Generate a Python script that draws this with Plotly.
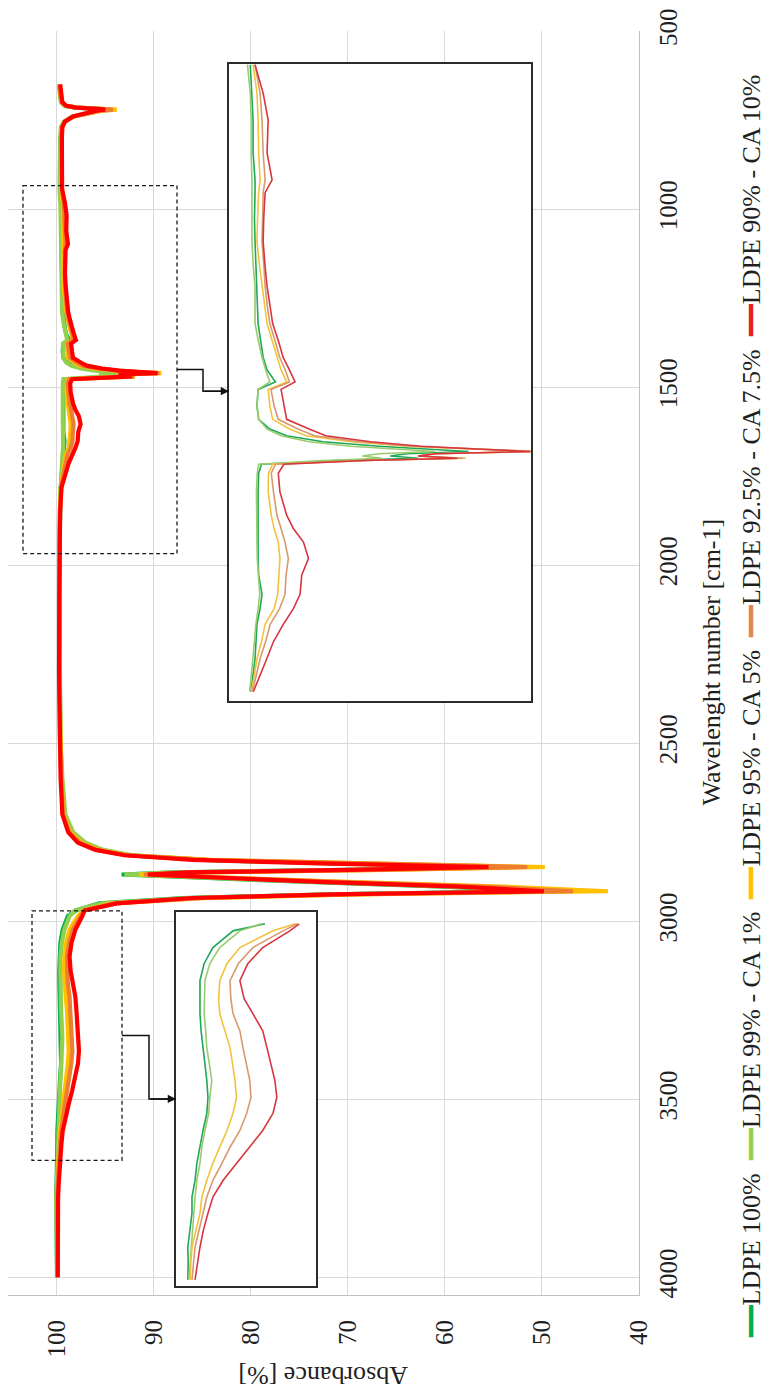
import plotly.graph_objects as go

# FTIR spectra: wavenumber grid (cm-1) shared by every sample
wavenumber = [
    650, 680, 700, 710, 715, 719, 721, 724, 730, 740, 755, 770, 800, 850, 900,
    944, 982, 1018, 1062, 1098, 1115, 1150, 1180, 1210, 1240, 1270, 1290, 1315,
    1335, 1352, 1368, 1378, 1400, 1418, 1431, 1440, 1448, 1454, 1458, 1461, 1464,
    1467, 1470, 1473, 1478, 1490, 1515, 1546, 1564, 1582, 1604, 1626, 1652, 1671,
    1692, 1715, 1738, 1759, 1782, 1850, 1950, 2100, 2300, 2500, 2600, 2700, 2750,
    2780, 2800, 2815, 2828, 2838, 2848, 2856, 2863, 2869, 2878, 2890, 2903, 2916,
    2925, 2935, 2950, 2970, 2986, 3024, 3060, 3099, 3140, 3174, 3213, 3251, 3290,
    3326, 3364, 3400, 3439, 3477, 3513, 3552, 3590, 3627, 3665, 3704, 3740, 3778,
    3850, 3925, 4000,
]

ldpe_100 = [
    99.70, 99.65, 99.50, 99.10, 97.90, 95.20, 94.30, 95.60, 96.60, 98.30, 99.20, 99.50, 99.58, 99.60, 99.60,
    99.60, 99.54, 99.50, 99.50, 99.43, 99.43, 99.45, 99.43, 99.40, 99.36, 99.34, 99.32, 99.22,
    99.14, 99.00, 98.70, 99.32, 99.36, 99.30, 98.90, 98.30, 97.00, 95.00, 93.00, 91.80, 94.00,
    94.60, 93.60, 96.50, 99.20, 99.30, 99.32, 99.33, 99.32, 99.32, 99.32, 99.30, 99.18, 99.25,
    99.36, 99.40, 99.43, 99.50, 99.58, 99.65, 99.68, 99.70, 99.70, 99.60, 99.45, 99.20, 98.50,
    97.30, 95.50, 92.50, 85.00, 72.00, 56.50, 70.00, 88.00, 93.30, 86.00, 74.00, 60.00, 50.50,
    72.00, 87.00, 95.60, 98.00, 98.84, 99.37, 99.60, 99.71, 99.72, 99.71, 99.68, 99.63, 99.58,
    99.53, 99.50, 99.53, 99.63, 99.71, 99.79, 99.84, 99.92, 99.92, 99.97, 100.03, 100.02, 100.03,
    100.00, 99.98, 99.95,
]

ldpe_99_ca_1 = [
    99.72, 99.68, 99.55, 99.20, 98.10, 95.60, 94.70, 95.90, 96.80, 98.40, 99.25, 99.55, 99.62, 99.65, 99.68,
    99.70, 99.60, 99.57, 99.57, 99.54, 99.54, 99.55, 99.54, 99.50, 99.43, 99.43, 99.43, 99.30,
    99.18, 99.05, 98.90, 99.32, 99.36, 99.30, 99.00, 98.50, 97.50, 96.00, 94.20, 93.00, 95.00,
    95.60, 94.90, 97.00, 99.30, 99.35, 99.38, 99.38, 99.37, 99.36, 99.35, 99.32, 99.26, 99.32,
    99.40, 99.45, 99.50, 99.56, 99.62, 99.66, 99.70, 99.70, 99.68, 99.58, 99.40, 99.10, 98.30,
    97.00, 95.20, 92.20, 84.50, 71.50, 56.00, 69.50, 87.50, 93.00, 85.50, 73.50, 59.50, 50.00,
    71.50, 86.50, 95.30, 98.10, 98.66, 99.19, 99.45, 99.58, 99.60, 99.60, 99.56, 99.53, 99.46,
    99.40, 99.45, 99.48, 99.58, 99.66, 99.71, 99.79, 99.84, 99.87, 99.91, 99.95, 99.98, 100.00,
    99.98, 99.96, 99.94,
]

ldpe_95_ca_5 = [
    99.68, 99.62, 99.45, 99.00, 97.80, 94.80, 93.80, 95.30, 96.40, 98.20, 99.15, 99.45, 99.52, 99.54, 99.52,
    99.50, 99.36, 99.32, 99.30, 99.25, 99.30, 99.34, 99.36, 99.28, 99.18, 99.08, 99.00, 98.80,
    98.65, 98.50, 98.30, 98.96, 98.90, 98.80, 98.20, 97.60, 96.00, 94.00, 91.50, 89.20, 93.00,
    93.60, 91.90, 95.50, 98.80, 98.95, 98.96, 98.85, 98.75, 98.60, 98.54, 98.58, 98.62, 98.75,
    99.07, 99.20, 99.36, 99.45, 99.56, 99.65, 99.70, 99.72, 99.72, 99.64, 99.50, 99.30, 98.60,
    97.40, 95.60, 92.60, 84.00, 68.00, 49.70, 66.00, 85.50, 91.50, 83.00, 70.00, 54.00, 43.20,
    69.00, 84.50, 94.30, 97.20, 97.79, 98.66, 99.00, 99.19, 99.22, 99.19, 99.05, 98.92, 98.85,
    98.79, 98.75, 98.84, 99.00, 99.19, 99.37, 99.53, 99.66, 99.71, 99.82, 99.92, 99.95, 99.97,
    99.95, 99.93, 99.92,
]

ldpe_925_ca_75 = [
    99.65, 99.60, 99.45, 99.00, 97.90, 95.00, 94.20, 95.50, 96.50, 98.25, 99.15, 99.42, 99.48, 99.48, 99.45,
    99.43, 99.25, 99.18, 99.14, 99.07, 99.14, 99.16, 99.18, 99.12, 99.07, 98.98, 98.90, 98.70,
    98.55, 98.35, 98.20, 98.86, 98.75, 98.60, 97.90, 97.30, 95.70, 93.80, 91.50, 89.40, 93.00,
    93.60, 92.00, 95.50, 98.70, 98.85, 98.77, 98.65, 98.50, 98.36, 98.24, 98.32, 98.36, 98.55,
    98.89, 99.05, 99.25, 99.38, 99.52, 99.64, 99.70, 99.72, 99.72, 99.66, 99.55, 99.35, 98.70,
    97.60, 95.80, 92.80, 84.50, 69.00, 51.50, 67.00, 85.50, 91.00, 83.00, 71.00, 56.00, 46.80,
    70.00, 85.00, 94.00, 97.15, 97.53, 98.32, 98.70, 98.92, 98.90, 98.84, 98.66, 98.58, 98.48,
    98.40, 98.37, 98.48, 98.66, 98.92, 99.13, 99.37, 99.53, 99.63, 99.74, 99.84, 99.88, 99.92,
    99.90, 99.90, 99.90,
]

ldpe_90_ca_10 = [
    99.62, 99.55, 99.40, 99.00, 98.00, 95.50, 95.00, 95.90, 96.70, 98.30, 99.15, 99.40, 99.45, 99.45, 99.42,
    99.43, 99.14, 98.96, 99.00, 98.82, 99.07, 99.12, 99.14, 99.08, 99.00, 98.88, 98.80, 98.58,
    98.43, 98.20, 98.00, 98.50, 98.40, 98.30, 97.50, 96.90, 95.30, 93.50, 91.30, 89.60, 93.00,
    93.60, 92.20, 95.50, 98.40, 98.60, 98.54, 98.30, 98.06, 97.70, 97.52, 97.76, 97.82, 98.06,
    98.42, 98.77, 99.01, 99.25, 99.49, 99.63, 99.70, 99.72, 99.74, 99.68, 99.58, 99.40, 98.80,
    97.80, 96.00, 93.00, 86.00, 73.00, 55.50, 70.00, 86.50, 90.60, 83.50, 73.00, 58.50, 49.80,
    71.50, 86.00, 93.80, 97.10, 97.35, 98.06, 98.45, 98.66, 98.55, 98.32, 98.06, 97.95, 97.84,
    97.74, 97.69, 97.79, 98.06, 98.40, 98.74, 99.10, 99.37, 99.50, 99.62, 99.71, 99.78, 99.84,
    99.85, 99.86, 99.87,
]

series_names = [
    "LDPE 100%",
    "LDPE 99% - CA 1%",
    "LDPE 95% - CA 5%",
    "LDPE 92.5% - CA 7.5%",
    "LDPE 90% - CA 10%",
]
series_values = [ldpe_100, ldpe_99_ca_1, ldpe_95_ca_5, ldpe_925_ca_75, ldpe_90_ca_10]

absorbance_ticks = [40, 50, 60, 70, 80, 90, 100]
wavenumber_ticks = [500, 1000, 1500, 2000, 2500, 3000, 3500, 4000]

# zoomed windows (wavenumber, cm-1) and their absorbance ranges
oh_window = (2970, 3780)
oh_view_abs = [100.34, 96.66]
oh_view_wn = [3792, 2943]
fp_window = (944, 1790)
fp_view_abs = [100.36, 89.57]
fp_view_wn = [1795, 943]

# ---------------------------------------------------------------- styling
W, H = 766, 1391
PL, PR, PT, PB = 8, 639, 28, 1295          # plot area in pixels
X_RANGE = [105, 40]
Y_RANGE = [4050, 500]
FONT = "Liberation Serif"
main_colors = ["#00B050", "#92D050", "#FFC000", "#ED7D31", "#FF0000"]
inset_colors = ["#1FA85A", "#98CC6C", "#F2C23E", "#D9996E", "#D7353F"]
legend_colors = ["#00B050", "#92D050", "#FFC000", "#E08850", "#E8201C"]


def px_to_abs(px):
    return X_RANGE[0] + (px - PL) / (PR - PL) * (X_RANGE[1] - X_RANGE[0])


def py_to_wn(py):
    return Y_RANGE[1] + (py - PT) / (PB - PT) * (Y_RANGE[0] - Y_RANGE[1])


def paper_x(px):
    return (px - PL) / (PR - PL)


def paper_y(py):
    return (PB - py) / (PB - PT)


fig = go.Figure()

# full spectra
for name, vals, col in zip(series_names, series_values, main_colors):
    fig.add_trace(go.Scatter(
        x=vals, y=wavenumber, mode="lines", name=name,
        line=dict(color=col, width=4.2), showlegend=False,
        xaxis="x", yaxis="y", hoverinfo="skip",
    ))


def window(lo, hi, vals):
    pairs = [(w, v) for w, v in zip(wavenumber, vals) if lo <= w <= hi]
    return [p[1] for p in pairs], [p[0] for p in pairs]


# zoomed O-H region (inset at the bottom)
for name, vals, col in zip(series_names, series_values, inset_colors):
    xs, ys = window(*oh_window, vals)
    fig.add_trace(go.Scatter(
        x=xs, y=ys, mode="lines", name=name, line=dict(color=col, width=1.6),
        showlegend=False, xaxis="x2", yaxis="y2", hoverinfo="skip",
    ))

# zoomed fingerprint region (inset at the top)
for name, vals, col in zip(series_names, series_values, inset_colors):
    xs, ys = window(*fp_window, vals)
    fig.add_trace(go.Scatter(
        x=xs, y=ys, mode="lines", name=name, line=dict(color=col, width=1.6),
        showlegend=False, xaxis="x3", yaxis="y3", hoverinfo="skip",
    ))

grid = "#D9D9D9"
tickfont = dict(family=FONT, size=25, color="#1f1f1f")
inset_axis = dict(showgrid=False, zeroline=False, showticklabels=False, ticks="",
                  showline=True, mirror=True, linecolor="#2b2b2b", linewidth=1.5)

# inset boxes in pixels: (left, right, top, bottom)
oh_box = (176, 316, 911, 1286)
fp_box = (229, 531, 61, 700)

fig.update_layout(
    width=W, height=H, autosize=False,
    margin=dict(l=PL, r=W - PR, t=PT, b=H - PB, pad=0),
    paper_bgcolor="white", plot_bgcolor="white",
    font=dict(family=FONT, color="#1f1f1f"),
    xaxis=dict(range=X_RANGE, domain=[0, 1], tickvals=absorbance_ticks, tickangle=-90,
               tickfont=tickfont, showgrid=True, gridcolor=grid, gridwidth=1,
               zeroline=False, showline=True, linecolor="#BFBFBF", linewidth=1,
               ticks="", ticklabelstandoff=14, anchor="y"),
    yaxis=dict(range=Y_RANGE, domain=[0, 1], tickvals=wavenumber_ticks, tickangle=-90,
               side="right", tickfont=tickfont, showgrid=True, gridcolor=grid, gridwidth=1,
               zeroline=False, showline=True, linecolor="#BFBFBF", linewidth=1,
               ticks="", ticklabelstandoff=7, anchor="x"),
    xaxis2=dict(range=oh_view_abs, domain=[paper_x(oh_box[0]), paper_x(oh_box[1])],
                anchor="y2", **inset_axis),
    yaxis2=dict(range=oh_view_wn, domain=[paper_y(oh_box[3]), paper_y(oh_box[2])],
                anchor="x2", **inset_axis),
    xaxis3=dict(range=fp_view_abs, domain=[paper_x(fp_box[0]), paper_x(fp_box[1])],
                anchor="y3", **inset_axis),
    yaxis3=dict(range=fp_view_wn, domain=[paper_y(fp_box[3]), paper_y(fp_box[2])],
                anchor="x3", **inset_axis),
)

# dashed frames marking the zoomed regions on the full spectra
dash_frames = [
    (px_to_abs(32), px_to_abs(122), 2971, 3672),
    (px_to_abs(23), px_to_abs(177), 934, 1968),
]
for x0, x1, y0, y1 in dash_frames:
    fig.add_shape(type="rect", xref="x", yref="y", x0=x0, x1=x1, y0=y0, y1=y1,
                  line=dict(color="#1a1a1a", width=1.3, dash="4px,3px"),
                  fillcolor="rgba(0,0,0,0)", layer="above")

# elbow connectors from each dashed frame to its inset
connectors = [
    # (frame right edge, frame mid wn, inset left edge px, arrow end py)
    (dash_frames[0][1], (2971 + 3672) / 2, oh_box[0], (oh_box[2] + oh_box[3]) / 2),
    (dash_frames[1][1], (934 + 1968) / 2, fp_box[0], 389),
]
for x_start, wn_start, inset_left, end_py in connectors:
    x_end = px_to_abs(inset_left)
    x_mid = (x_start + x_end) / 2
    wn_end = py_to_wn(end_py)
    fig.add_shape(type="path", xref="x", yref="y",
                  path=f"M {x_start},{wn_start} L {x_mid},{wn_start} L {x_mid},{wn_end} L {x_end},{wn_end}",
                  line=dict(color="#111111", width=1.5), layer="above")
    fig.add_annotation(x=x_end, y=wn_end, ax=x_mid, ay=wn_end, xref="x", yref="y",
                       axref="x", ayref="y", text="", showarrow=True,
                       arrowhead=2, arrowsize=1.1, arrowwidth=1.5, arrowcolor="#111111",
                       standoff=0)

# axis titles
fig.add_annotation(text="Wavelenght number [cm-1]", textangle=-90, showarrow=False,
                   xref="paper", yref="paper", x=paper_x(712), y=paper_y(661),
                   xanchor="center", yanchor="middle",
                   font=dict(family=FONT, size=26, color="#1f1f1f"))
fig.add_annotation(text="Absorbance [%]", textangle=180, showarrow=False,
                   xref="paper", yref="paper", x=paper_x(323), y=paper_y(1375),
                   xanchor="center", yanchor="middle",
                   font=dict(family=FONT, size=26, color="#1f1f1f"))

# legend, written along the right edge
nb = "\u00a0"
legend_text = (nb * 2).join(
    f"<span style='color:{col}'>━━</span>{name}"
    for name, col in zip(series_names, legend_colors)
)
fig.add_annotation(text=legend_text, textangle=-90, showarrow=False,
                   xref="paper", yref="paper", x=paper_x(751), y=paper_y(705),
                   xanchor="center", yanchor="middle",
                   font=dict(family=FONT, size=26, color="#1f1f1f"))

fig.write_html("out.html")
